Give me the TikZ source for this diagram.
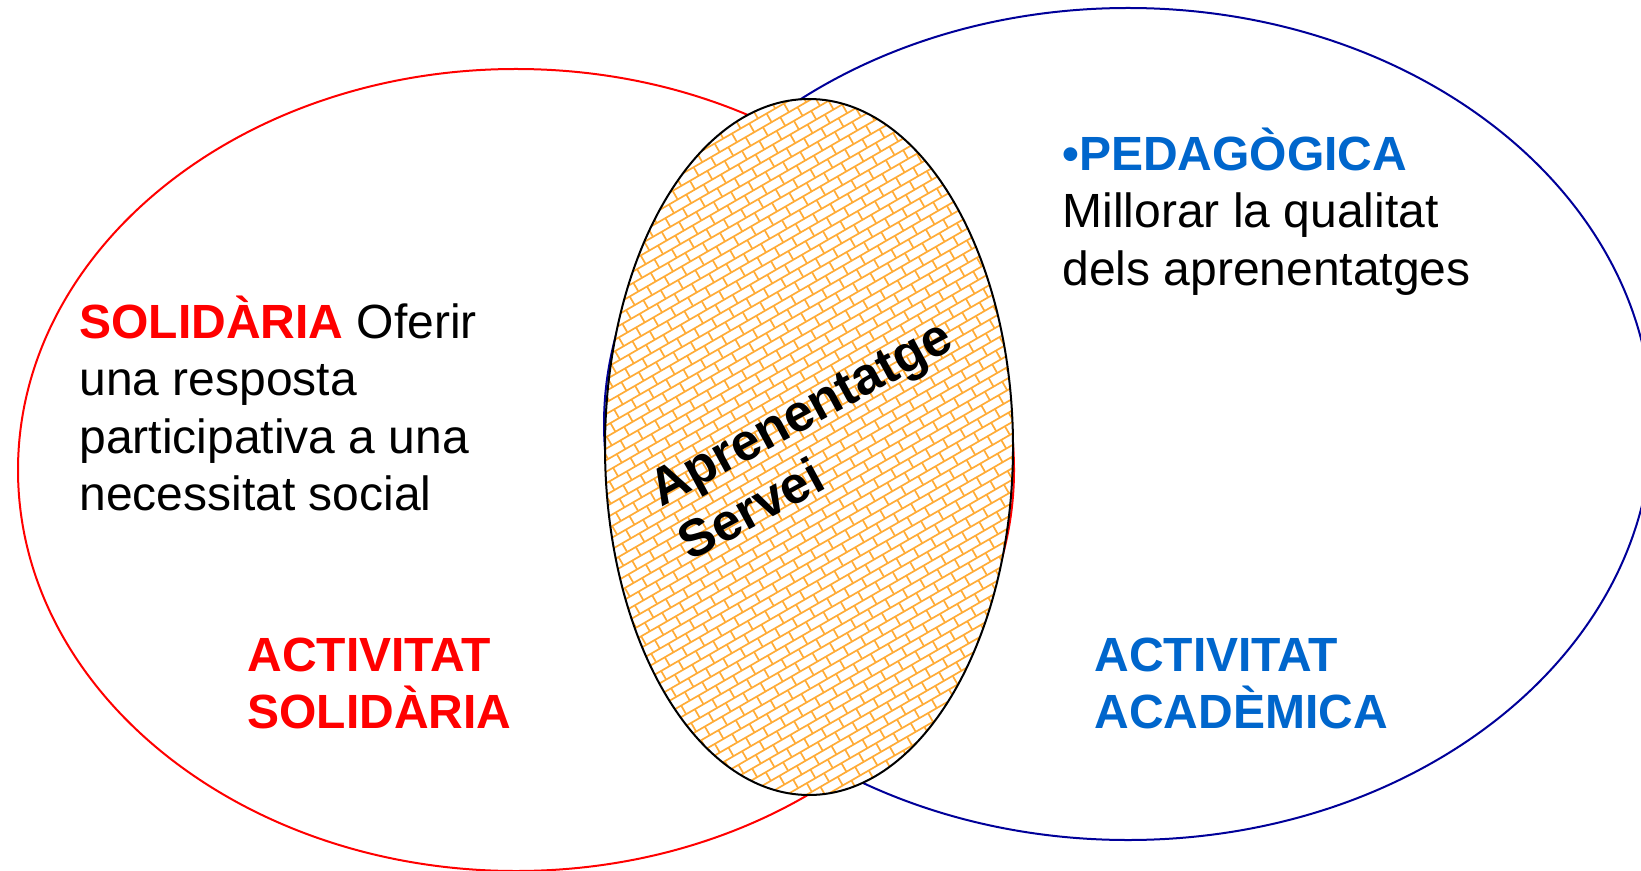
\documentclass[tikz,border=0pt]{standalone}
\usepackage{fontspec}
\setmainfont{Liberation Sans}
\begin{document}
\definecolor{lred}{RGB}{255,0,0}
\definecolor{lnavy}{RGB}{0,0,153}
\definecolor{tblue}{RGB}{0,102,204}
\definecolor{brick}{RGB}{255,172,55}
\begin{tikzpicture}[x=0.5pt,y=-0.5pt,
  txt/.style={anchor=base west,inner sep=0pt,font=\fontsize{24pt}{28.8pt}\selectfont},
  btxt/.style={txt,font=\fontsize{24pt}{28.8pt}\selectfont\bfseries},
  ctxt/.style={anchor=base west,inner sep=0pt,rotate=28.5,font=\fontsize{26pt}{31pt}\selectfont\bfseries},
  pat/.style={draw=brick,line width=0.85pt}]
\useasboundingbox (0,0) rectangle (1641,871);
\fill[white] (0,0) rectangle (1641,871);
% outer ellipses
\draw[lred,line width=1pt] (516,470) ellipse [x radius=498,y radius=401];
\draw[lnavy,line width=1pt] (1128,424) ellipse [x radius=524,y radius=416];
% central ellipse with brick pattern
\fill[white] (809,447) ellipse [x radius=204,y radius=348];
\begin{scope}
  \clip (809,447) ellipse [x radius=204,y radius=348];
  \begin{scope}[shift={(809,447)},rotate=30]
    \draw[pat] foreach \i in {-45,...,45} { (-460,{\i*10}) -- (460,{\i*10}) };
    \foreach \i in {-45,...,45} {
      \pgfmathsetmacro{\off}{10*mod(abs(\i),2)}
      \draw[pat] foreach \j in {-23,...,23} { ({\j*20+\off},{\i*10}) -- ++(0,10) };
    }
  \end{scope}
\end{scope}
\draw[black,line width=1pt] (809,447) ellipse [x radius=204,y radius=348];
% left text
\node[txt] (s1) at (79,338) {{\color{lred}\bfseries SOLIDÀRIA} Oferir};
\node[txt] (s2) at (79,395.5) {una resposta};
\node[txt] (s3) at (79,453) {participativa a una};
\node[txt] (s4) at (79,510.5) {necessitat social};
% right text
\node[txt] (p1) at (1062,170.5) {{\color{tblue}\bfseries •PEDAGÒGICA}};
\node[txt] (p2) at (1062,228) {Millorar la qualitat};
\node[txt] (p3) at (1062,285.5) {dels aprenentatges};
% bottom labels
\node[btxt,text=lred] (a1) at (247,671) {ACTIVITAT};
\node[btxt,text=lred] (a2) at (247,728.5) {SOLIDÀRIA};
\node[btxt,text=tblue] (b1) at (1094,671) {ACTIVITAT};
\node[btxt,text=tblue] (b2) at (1094,728.5) {ACADÈMICA};
% central text
\node[ctxt] (c1) at (661,508) {Aprenentatge};
\node[ctxt] (c2) at (690.5,562) {Servei};
\end{tikzpicture}
\end{document}
